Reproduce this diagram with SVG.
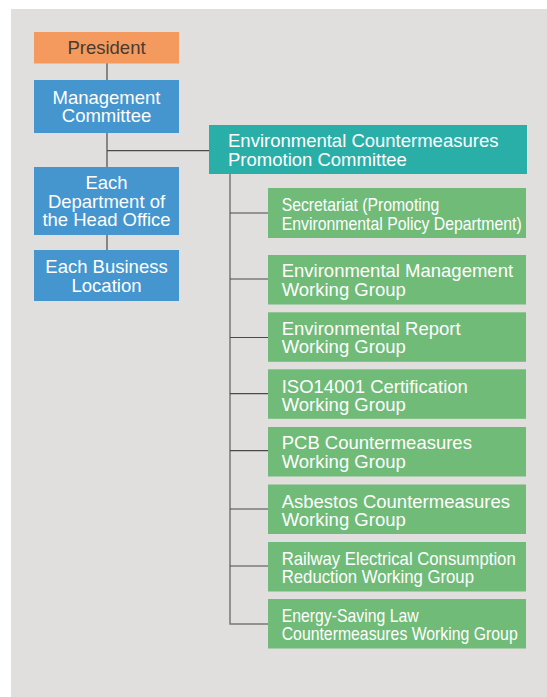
<svg xmlns="http://www.w3.org/2000/svg" width="547" height="697" viewBox="0 0 547 697">
<style>
.t{font-family:"Liberation Sans",Arial,Helvetica,sans-serif;font-size:18.5px;fill:#ffffff}
.c{text-anchor:middle}
.dark{fill:#4a3b30}
.blue{fill:#4596CF}
.green{fill:#71BB78}
.ln{stroke:#4a4a4a;stroke-width:1.2;fill:none}
.lg{stroke:#7a7872;stroke-width:1.5;fill:none}
</style>
<rect x="0" y="0" width="547" height="697" fill="#ffffff"/>
<rect x="11" y="9" width="536" height="688" fill="#E0DFDD"/>
<g id="connectors">
<line class="ln" x1="107" y1="63" x2="107" y2="80"/>
<line class="ln" x1="107" y1="133" x2="107" y2="167"/>
<line class="ln" x1="107" y1="235" x2="107" y2="250"/>
<line class="ln" x1="107" y1="150.7" x2="209" y2="150.7"/>
<path class="lg" d="M230 174 V624 H268"/>
<line class="ln" x1="230" y1="213" x2="268" y2="213"/>
<line class="ln" x1="230" y1="279" x2="268" y2="279"/>
<line class="ln" x1="230" y1="337.5" x2="268" y2="337.5"/>
<line class="ln" x1="230" y1="393.7" x2="268" y2="393.7"/>
<line class="ln" x1="230" y1="450.7" x2="268" y2="450.7"/>
<line class="ln" x1="230" y1="509" x2="268" y2="509"/>
<line class="ln" x1="230" y1="566" x2="268" y2="566"/>
</g>
<g id="president">
<rect x="34" y="32" width="145" height="31.5" fill="#F49A5E"/>
<text class="t c dark" x="106.5" y="54">President</text>
</g>
<g id="management">
<rect class="blue" x="34" y="80" width="145" height="53"/>
<text class="t c" x="106.5" y="104">Management</text>
<text class="t c" x="106.5" y="122.3">Committee</text>
</g>
<g id="head-office">
<rect class="blue" x="34" y="167" width="145" height="68"/>
<text class="t c" x="106.5" y="189.3">Each</text>
<text class="t c" x="106.5" y="207.7">Department of</text>
<text class="t c" x="106.5" y="226">the Head Office</text>
</g>
<g id="business">
<rect class="blue" x="34" y="250" width="145" height="51"/>
<text class="t c" x="106.5" y="273.3">Each Business</text>
<text class="t c" x="106.5" y="291.7">Location</text>
</g>
<g id="env-committee">
<rect x="209" y="125" width="318" height="49" fill="#2AAFA8"/>
<text class="t" x="228" y="147.3">Environmental Countermeasures</text>
<text class="t" x="228" y="166">Promotion Committee</text>
</g>
<g id="secretariat">
<rect class="green" x="268" y="188" width="258" height="50"/>
<text class="t" x="281.7" y="210.7" textLength="157.6" lengthAdjust="spacingAndGlyphs">Secretariat (Promoting</text>
<text class="t" x="281.7" y="230" textLength="240" lengthAdjust="spacingAndGlyphs">Environmental Policy Department)</text>
</g>
<g id="wg-management">
<rect class="green" x="268" y="255" width="258" height="49.5"/>
<text class="t" x="281.7" y="277.3">Environmental Management</text>
<text class="t" x="281.7" y="295.7">Working Group</text>
</g>
<g id="wg-report">
<rect class="green" x="268" y="312.3" width="258" height="49.5"/>
<text class="t" x="281.7" y="335">Environmental Report</text>
<text class="t" x="281.7" y="353.3">Working Group</text>
</g>
<g id="wg-iso">
<rect class="green" x="268" y="369.3" width="258" height="49.5"/>
<text class="t" x="281.7" y="392.7">ISO14001 Certification</text>
<text class="t" x="281.7" y="411">Working Group</text>
</g>
<g id="wg-pcb">
<rect class="green" x="268" y="427" width="258" height="49.5"/>
<text class="t" x="281.7" y="449.3">PCB Countermeasures</text>
<text class="t" x="281.7" y="467.7">Working Group</text>
</g>
<g id="wg-asbestos">
<rect class="green" x="268" y="484.5" width="258" height="49.5"/>
<text class="t" x="281.7" y="507.7">Asbestos Countermeasures</text>
<text class="t" x="281.7" y="526">Working Group</text>
</g>
<g id="wg-railway">
<rect class="green" x="268" y="542" width="258" height="49.5"/>
<text class="t" x="281.7" y="565" textLength="234" lengthAdjust="spacingAndGlyphs">Railway Electrical Consumption</text>
<text class="t" x="281.7" y="583.3" textLength="192.3" lengthAdjust="spacingAndGlyphs">Reduction Working Group</text>
</g>
<g id="wg-energy">
<rect class="green" x="268" y="599" width="258" height="49.5"/>
<text class="t" x="281.7" y="621.7" textLength="137" lengthAdjust="spacingAndGlyphs">Energy-Saving Law</text>
<text class="t" x="281.7" y="640" textLength="236" lengthAdjust="spacingAndGlyphs">Countermeasures Working Group</text>
</g>
</svg>
